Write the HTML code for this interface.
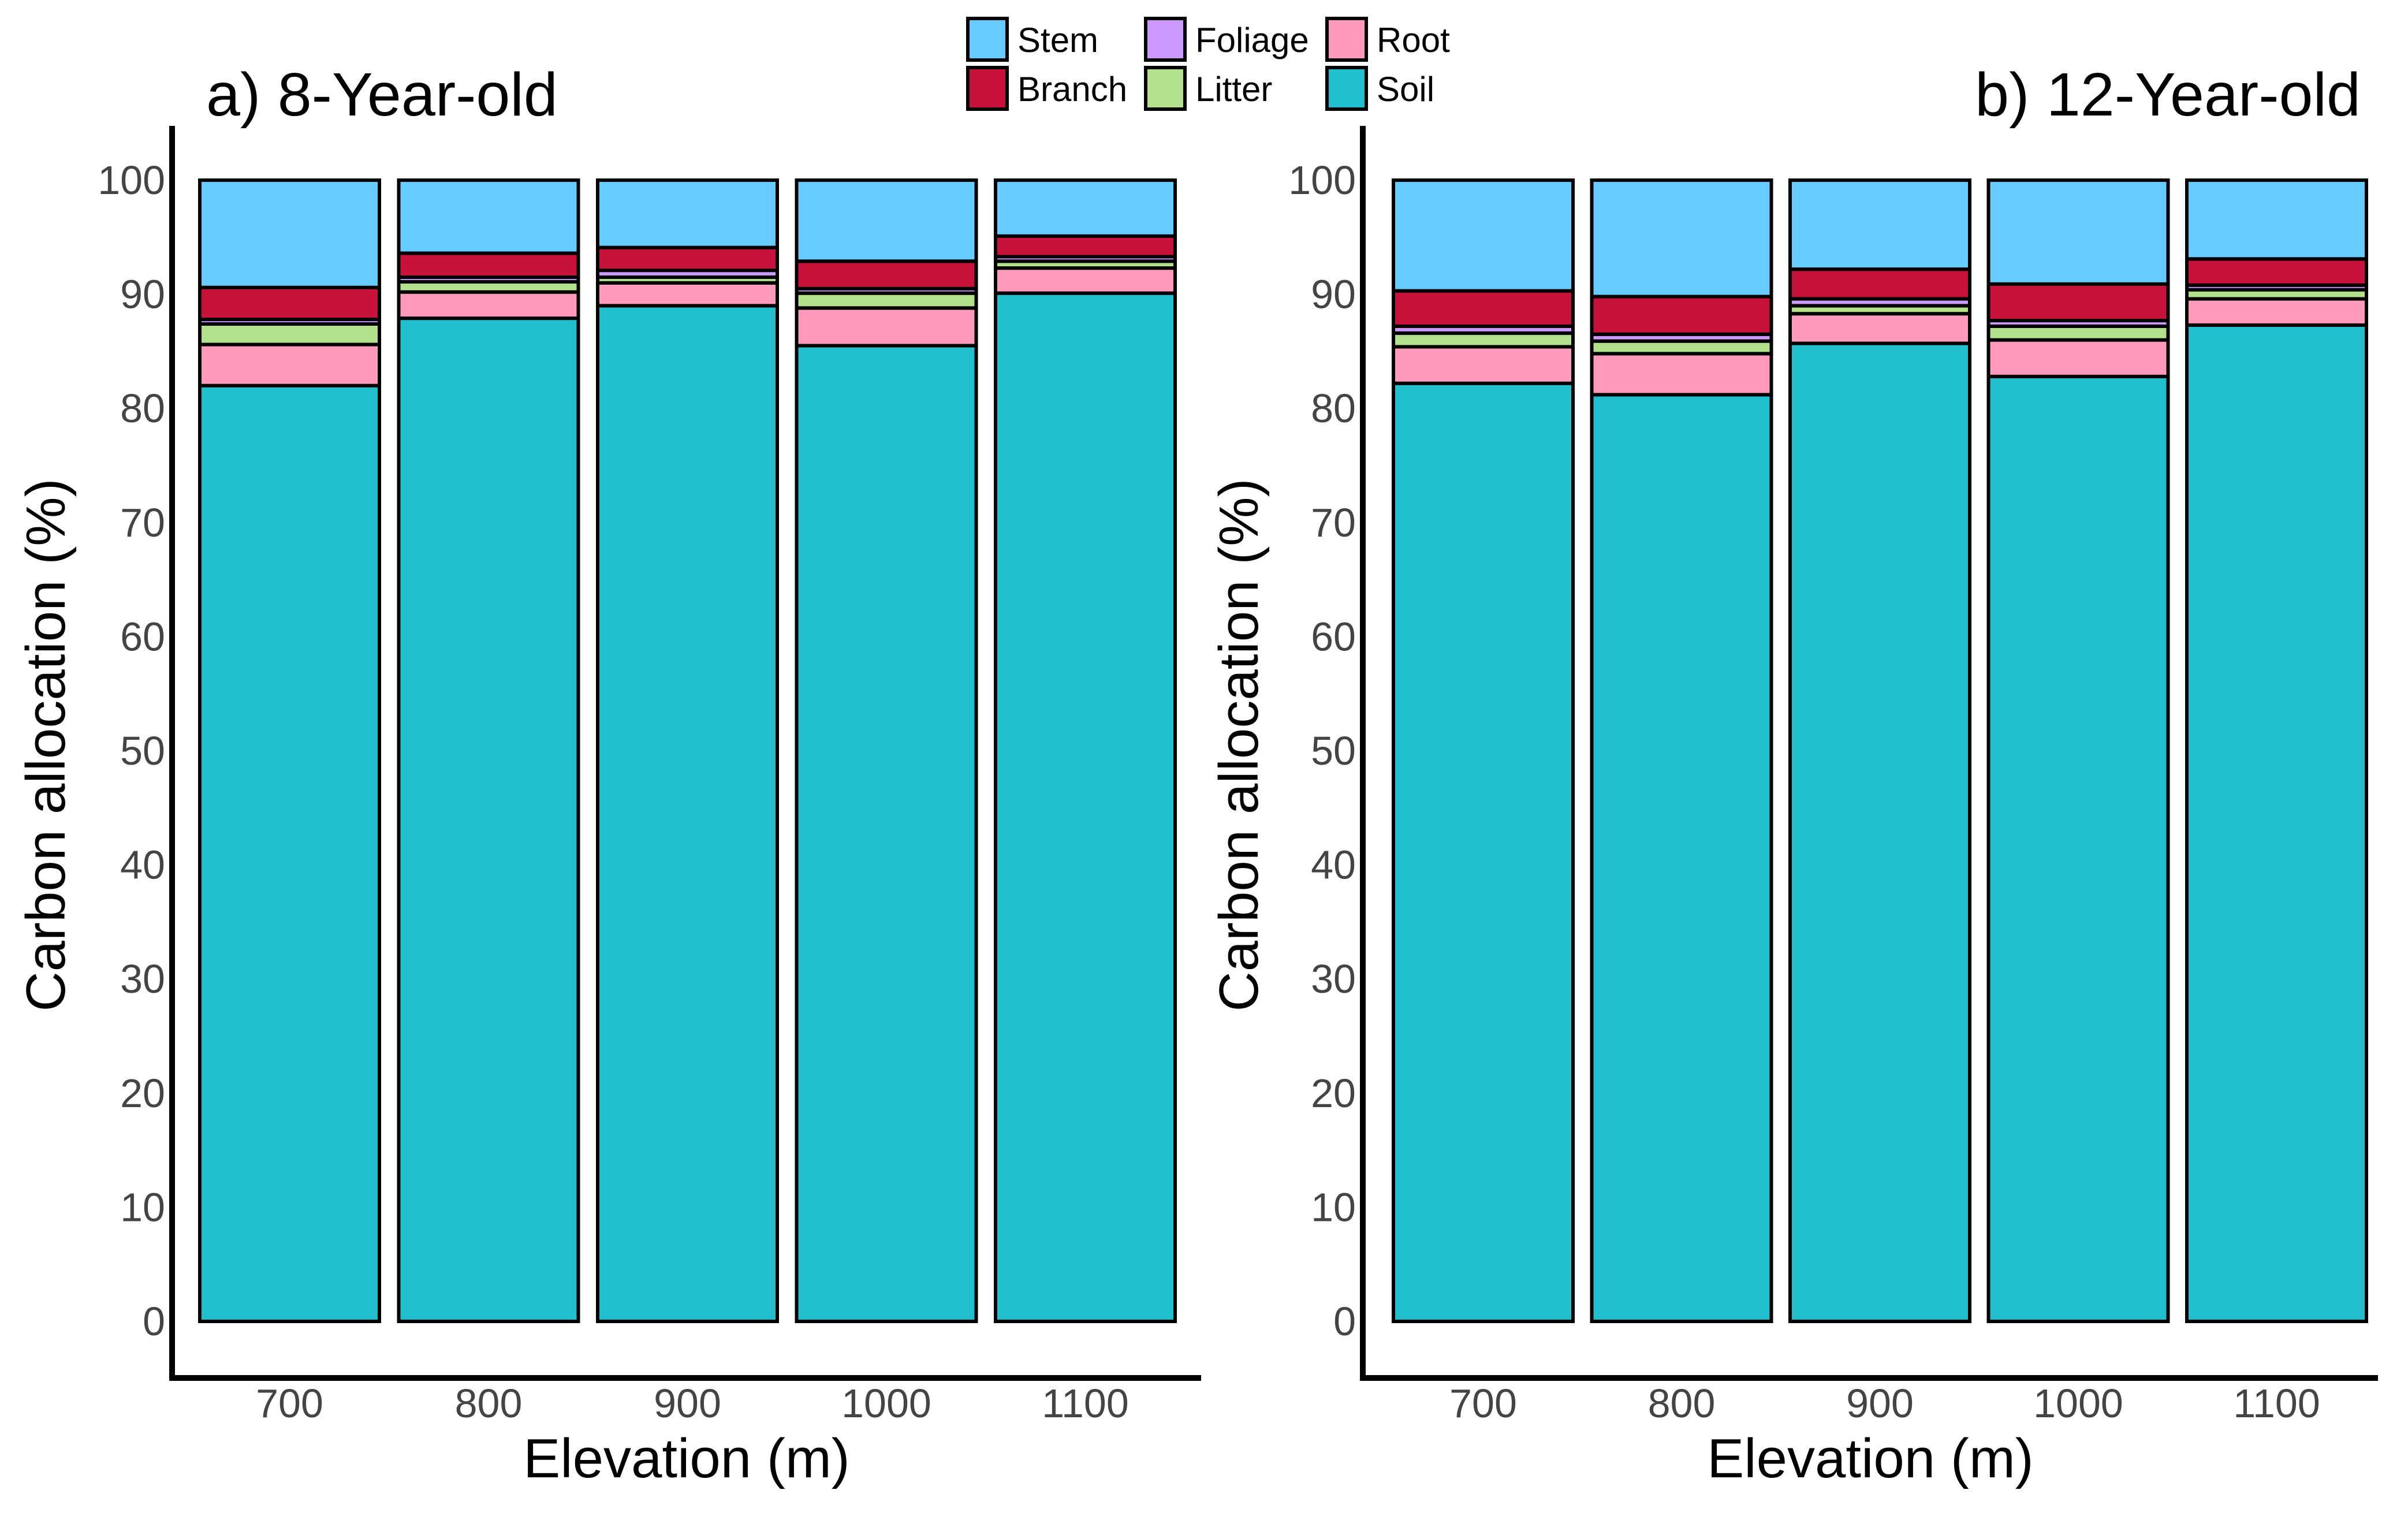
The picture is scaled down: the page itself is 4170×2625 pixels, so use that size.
<!DOCTYPE html>
<html><head><meta charset="utf-8"><style>
html,body{margin:0;padding:0;background:#fff;}
svg{display:block;font-family:"Liberation Sans",Arial,sans-serif;}
</style></head><body>
<svg id="chart" width="4170" height="2625" viewBox="0 0 4170 2625" xmlns="http://www.w3.org/2000/svg">
<g id="legend"></g>
<g id="panelA"></g>
<g id="panelB"></g>
</svg>
<script>
const categories = ["700","800","900","1000","1100"];
const components = ["Soil","Root","Litter","Foliage","Branch","Stem"];
const yTicks = [0,10,20,30,40,50,60,70,80,90,100];
// 8-year-old
const soilA    = [82.0, 87.9, 89.0, 85.5, 90.1];
const rootA    = [3.6, 2.3, 2.0, 3.3, 2.2];
const litterA  = [1.8, 0.9, 0.5, 1.3, 0.6];
const foliageA = [0.4, 0.4, 0.6, 0.4, 0.4];
const branchA  = [2.8, 2.1, 2.0, 2.4, 1.8];
const stemA    = [9.4, 6.4, 5.9, 7.1, 4.9];
// 12-year-old
const soilB    = [82.2, 81.2, 85.7, 82.8, 87.3];
const rootB    = [3.2, 3.6, 2.6, 3.2, 2.3];
const litterB  = [1.2, 1.1, 0.7, 1.2, 0.8];
const foliageB = [0.6, 0.6, 0.6, 0.5, 0.4];
const branchB  = [3.1, 3.3, 2.6, 3.2, 2.3];
const stemB    = [9.7, 10.2, 7.8, 9.1, 6.9];

const colors = {Stem:"#66ccff",Branch:"#c8123b",Foliage:"#cc99ff",Litter:"#b3e08a",Root:"#ff99bd",Soil:"#21bfce"};
const NS = "http://www.w3.org/2000/svg";
function mk(tag, attrs, parent){const e=document.createElementNS(NS,tag);for(const k in attrs)e.setAttribute(k,attrs[k]);parent.appendChild(e);return e;}

const y0 = 2288, y100 = 312;
function yScale(v){return y0 + (y100-y0)*v/100;}

function drawPanel(g, series, axisX, barX0, barStep, barW, axisEnd, title, titleX, titleAnchor, yTitleX){
  // y axis
  const ya = mk("line",{x1:axisX,y1:218,x2:axisX,y2:2391,stroke:"#000","stroke-width":10},g);
  
  
  const xa = mk("line",{x1:axisX-5,y1:2386,x2:axisEnd,y2:2386,stroke:"#000","stroke-width":10},g);
  
  
  yTicks.forEach(t=>{
    const tx = mk("text",{x:axisX-12,y:yScale(t)+24,"text-anchor":"end","font-size":70,fill:"#444"},g);
    tx.textContent = t;
    
    
  });
  categories.forEach((c,i)=>{
    const bx = barX0 + i*barStep;
    let acc = 0;
    components.forEach(comp=>{
      const v = series[comp][i];
      const r = mk("rect",{x:bx,y:yScale(acc+v),width:barW,height:yScale(acc)-yScale(acc+v),fill:colors[comp],stroke:"#000","stroke-width":6},g);
      
      
      acc += v;
    });
    const lt = mk("text",{x:bx+barW/2,y:2454,"text-anchor":"middle","font-size":70,fill:"#444"},g);
    lt.textContent = c;
    
    
  });
  const xt = mk("text",{x:(axisX+axisEnd)/2,y:2558,"text-anchor":"middle","font-size":96,fill:"#000"},g);
  xt.textContent = "Elevation (m)";
  
  
  const yt = mk("text",{x:0,y:0,"text-anchor":"middle","font-size":96,fill:"#000",transform:"translate("+yTitleX+",1290) rotate(-90)"},g);
  yt.textContent = "Carbon allocation (%)";
  
  
  const tt = mk("text",{x:titleX,y:200,"text-anchor":titleAnchor,"font-size":106,fill:"#000"},g);
  tt.textContent = title;
  
  
}

drawPanel(document.getElementById("panelA"),
  {Soil:soilA,Root:rootA,Litter:litterA,Foliage:foliageA,Branch:branchA,Stem:stemA},
  298, 346, 344.5, 311, 2080, "a)  8-Year-old", 357, "start", 112);
drawPanel(document.getElementById("panelB"),
  {Soil:soilB,Root:rootB,Litter:litterB,Foliage:foliageB,Branch:branchB,Stem:stemB},
  2360, 2413, 343.5, 311, 4118, "b)  12-Year-old", 4088, "end", 2178);

const legendItems = [["Stem",1676,32],["Branch",1676,117],["Foliage",1984,32],["Litter",1984,117],["Root",2298,32],["Soil",2298,117]];
const lg = document.getElementById("legend");
legendItems.forEach(([name,x,y])=>{
  const r = mk("rect",{x:x,y:y,width:68,height:72,fill:colors[name],stroke:"#000","stroke-width":6},lg);
  
  
  const t = mk("text",{x:x+86,y:y+58,"font-size":60,fill:"#000"},lg);
  t.textContent = name;
  
  
});
</script>
</body></html>
